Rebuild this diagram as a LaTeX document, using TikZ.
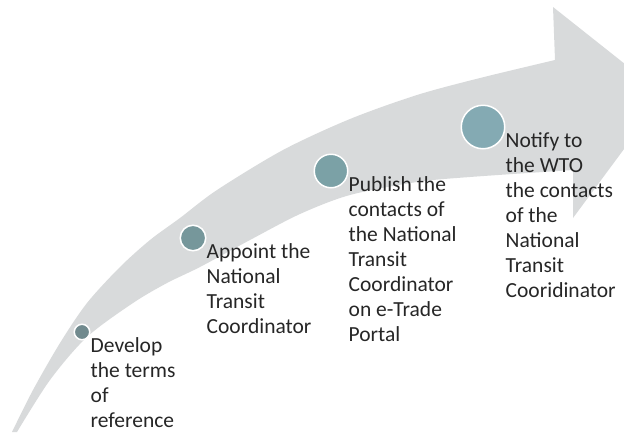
\documentclass[tikz,border=0pt]{standalone}
\usepackage{fontspec}
\setmainfont{Carlito}
\usepackage{xcolor}
\usetikzlibrary{positioning}

\definecolor{arrowgray}{HTML}{D8DADB}
\definecolor{textgray}{HTML}{262626}
\definecolor{dotA}{HTML}{718A8E}
\definecolor{dotB}{HTML}{76979B}
\definecolor{dotC}{HTML}{7BA1A6}
\definecolor{dotD}{HTML}{84AAB3}

\begin{document}
\begin{tikzpicture}[x=1pt, y=-1pt,
  milestone/.style={circle, draw=white, line width=1.5pt, inner sep=0pt},
  steptext/.style={align=left, inner sep=0pt, text=textgray,
    font=\fontsize{21.5}{25}\selectfont}]
\useasboundingbox (0,0) rectangle (624,432);
\clip (0,0) rectangle (624,432);

% big curved arrow
\fill[arrowgray] plot[smooth] coordinates {(12,432) (33,390) (60,343) (87,303) (120,267) (150,240) (180,218) (217,190) (283,150) (350,119) (417,95) (480,78) (555,60)}
  -- (553,7) -- (664,95) -- (573,218) -- (573,170)
  -- plot[smooth] coordinates {(573,170) (470,177) (417,182) (350,195) (300,214) (250,240) (200,267) (167,283) (133,303) (87,337) (50,380) (17,432)}
  -- cycle;

% milestones
\node (step1) [milestone, fill=dotA, minimum size=15.5pt] at (82,332) {};
\node (step2) [milestone, fill=dotB, minimum size=25.5pt] at (193,238) {};
\node (step3) [milestone, fill=dotC, minimum size=33.5pt] at (331,171) {};
\node (step4) [milestone, fill=dotD, minimum size=43.5pt] at (483,127) {};

\node (txt1) [steptext, below right=3pt and 0pt of step1.east] {\strut Develop\\the terms\\of\\reference};
\node (txt2) [steptext, below right=3pt and 0pt of step2.east] {\strut Appoint the\\National\\Transit\\Coordinator};
\node (txt3) [steptext, below right=3pt and 0pt of step3.east] {\strut Publish the\\contacts of\\the National\\Transit\\Coordinator\\on e-Trade\\Portal};
\node (txt4) [steptext, below right=3pt and 0pt of step4.east] {\strut Notify to\\the WTO\\the contacts\\of the\\National\\Transit\\Cooridinator};
\end{tikzpicture}
\end{document}
